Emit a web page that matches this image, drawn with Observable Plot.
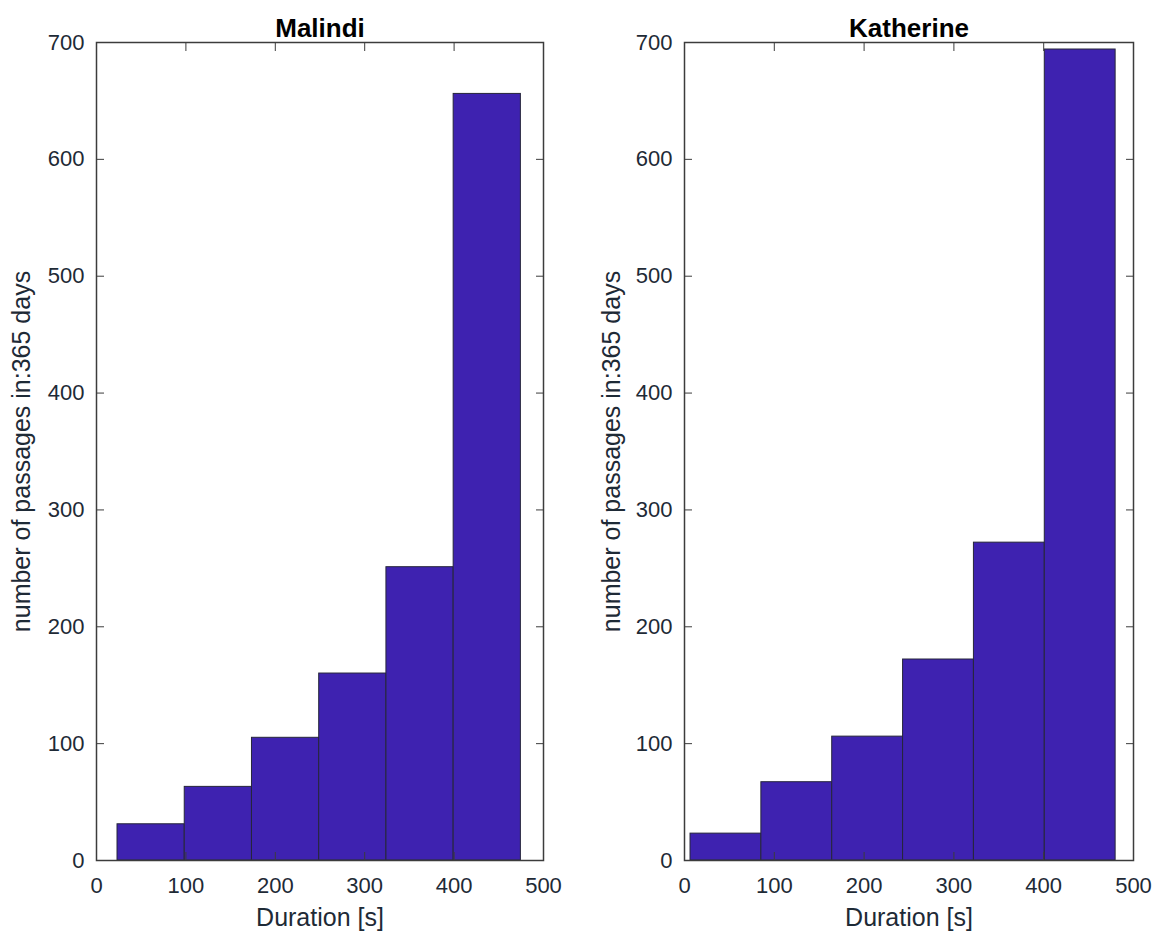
<!DOCTYPE html>
<html>
<head>
<meta charset="utf-8">
<script src="https://cdn.jsdelivr.net/npm/d3@7"></script>
<script src="https://cdn.jsdelivr.net/npm/@observablehq/plot@0.6"></script>
<style>
  html, body { margin: 0; padding: 0; background: #ffffff; }
  #wrap { position: relative; width: 1155px; height: 936px; overflow: hidden; }
  .panel { position: absolute; top: 0; }
</style>
</head>
<body>
<div id="wrap">
  <div class="panel" id="left" style="left:0px"></div>
  <div class="panel" id="right" style="left:577px"></div>
</div>
<script>
// ---- data ----
const panelTitles = ["Malindi", "Katherine"];
const malindiEdges = [23.5, 98.7, 173.9, 249.1, 324.3, 399.5, 474.7];
const malindiCounts = [31, 63, 105, 160, 251, 656];
const katherineEdges = [6.7, 85.6, 164.5, 243.4, 322.3, 401.2, 480.1];
const katherineCounts = [23, 67, 106, 172, 272, 694];
const xTicks = [0, 100, 200, 300, 400, 500];
const yTicks = [0, 100, 200, 300, 400, 500, 600, 700];
const xLabel = "Duration [s]";
const yLabel = "number of passages in:365 days";

const FONT = "Liberation Sans, Arial, Helvetica, sans-serif";
const TEXT = "#1e2a36";

function panel(title, edges, counts, o) {
  const bins = counts.map((c, i) => ({x1: edges[i], x2: edges[i + 1], y: c}));
  return Plot.plot({
    width: o.width,
    height: 936,
    marginLeft: o.ml,
    marginRight: o.mr,
    marginTop: 42,
    marginBottom: 76,
    x: {domain: [0, 500]},
    y: {domain: [0, 700]},
    style: {fontFamily: FONT, background: "#ffffff", color: TEXT, overflow: "visible"},
    marks: [
      Plot.rectY(bins, {x1: "x1", x2: "x2", y: "y", fill: "#3e22b0", stroke: "#26263a", strokeWidth: 1}),
      Plot.frame({stroke: "#3c3c3c", strokeWidth: 1.5}),
      Plot.axisX(xTicks, {anchor: "bottom", tickSize: 0, tickPadding: 17, fontSize: 22, fill: TEXT, label: null}),
      Plot.axisX(xTicks, {anchor: "bottom", tickSize: -8, tickFormat: () => "", label: null, stroke: "#3c3c3c"}),
      Plot.axisX(xTicks, {anchor: "top", tickSize: -8, tickFormat: () => "", label: null, stroke: "#3c3c3c"}),
      Plot.axisY(yTicks, {anchor: "left", tickSize: 0, tickPadding: 12, fontSize: 22, fill: TEXT, label: null}),
      Plot.axisY(yTicks, {anchor: "left", tickSize: -8, tickFormat: () => "", label: null, stroke: "#3c3c3c"}),
      Plot.axisY(yTicks, {anchor: "right", tickSize: -8, tickFormat: () => "", label: null, stroke: "#3c3c3c"}),
      Plot.text([xLabel], {frameAnchor: "bottom", lineAnchor: "middle", textAnchor: "middle", dy: 57, fontSize: 25, fill: TEXT}),
      Plot.text([yLabel], {frameAnchor: "left", lineAnchor: "middle", textAnchor: "middle", rotate: -90, dx: o.ylDx, fontSize: 25, fill: TEXT}),
      Plot.text([title], {frameAnchor: "top", lineAnchor: "middle", textAnchor: "middle", dy: -14, fontSize: 26, fontWeight: "bold", fill: "#000000"})
    ]
  });
}

document.getElementById("left").append(
  panel(panelTitles[0], malindiEdges, malindiCounts, {width: 577, ml: 96, mr: 34, ylDx: -75})
);
document.getElementById("right").append(
  panel(panelTitles[1], katherineEdges, katherineCounts, {width: 578, ml: 107, mr: 22, ylDx: -73})
);
</script>
</body>
</html>
